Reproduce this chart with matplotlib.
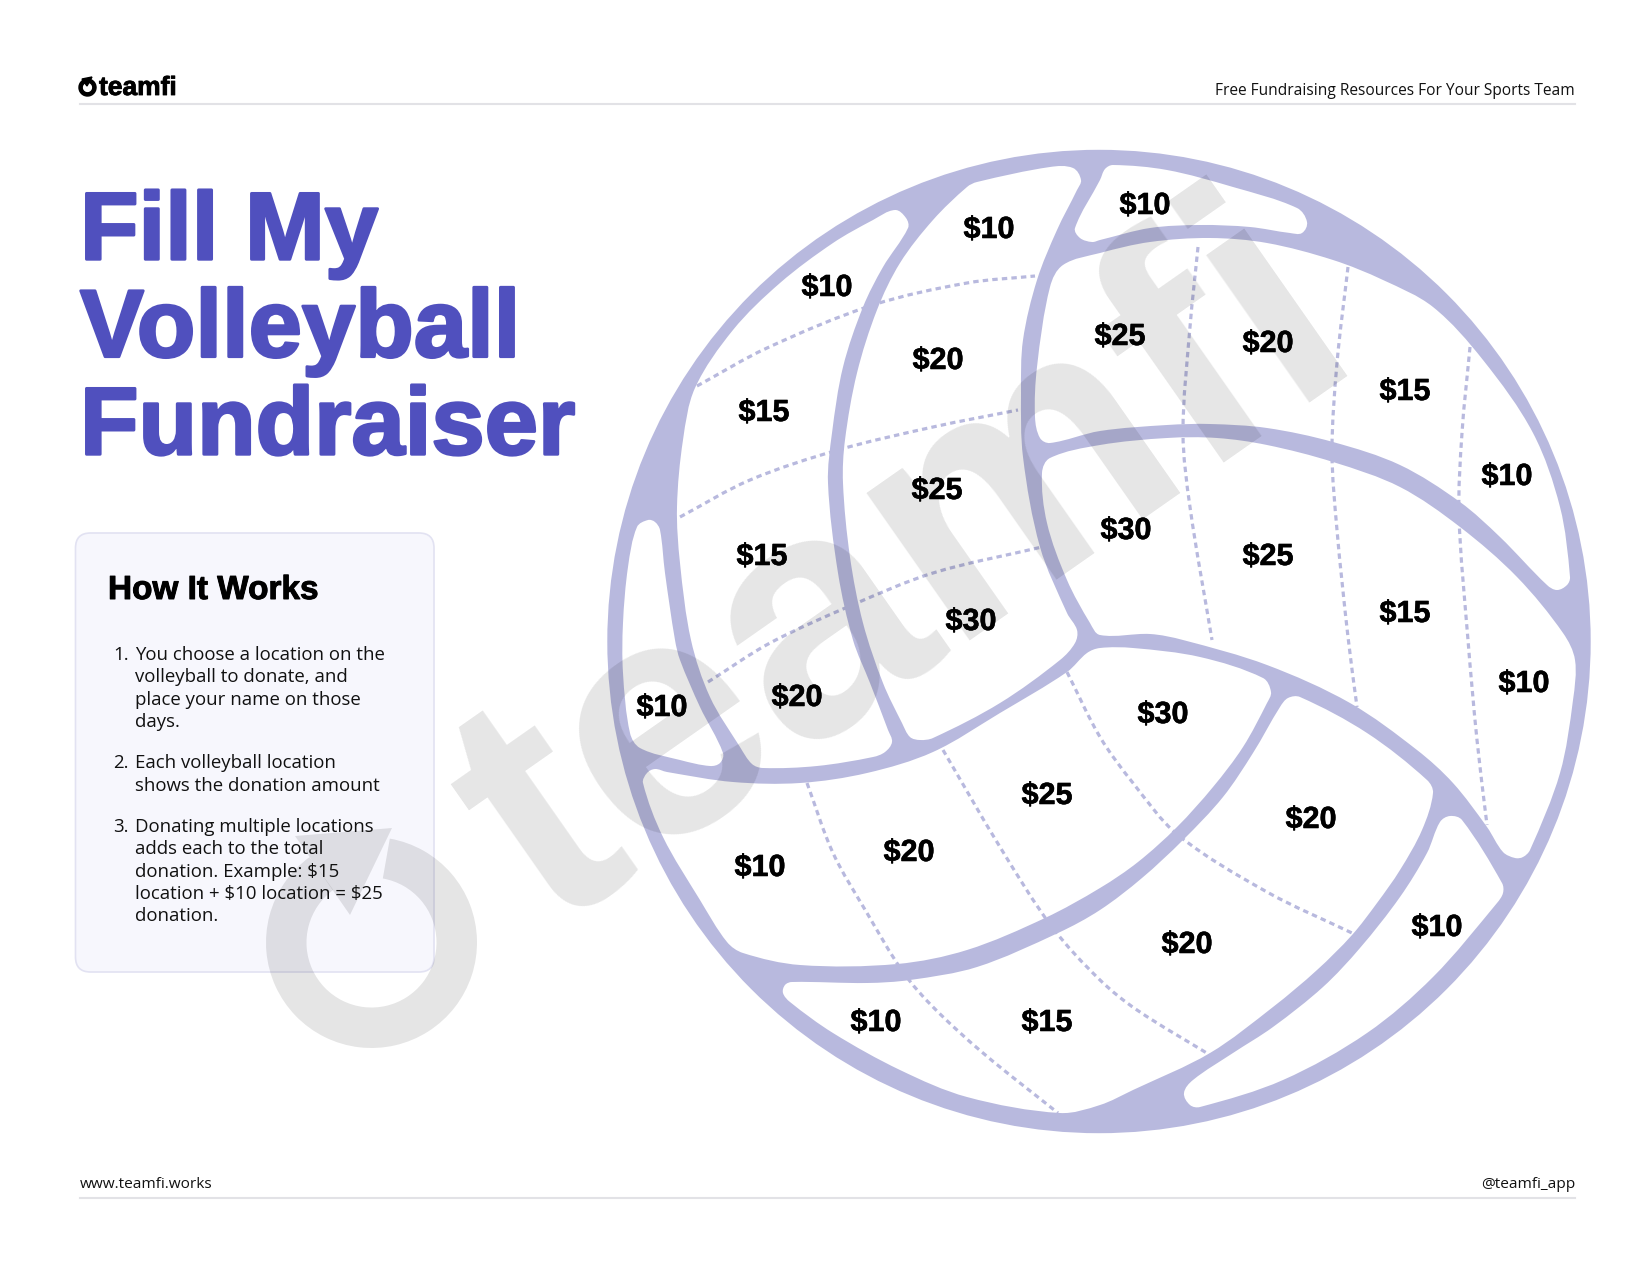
import numpy as np
import matplotlib
matplotlib.use("Agg")
import matplotlib.pyplot as plt
import matplotlib.patheffects as pe
from matplotlib.path import Path
from matplotlib.patches import PathPatch, Circle, FancyBboxPatch, Wedge, Polygon

# ---------- content ----------
title_lines = ["Fill My", "Volleyball", "Fundraiser"]
brand = "teamfi"
tagline = "Free Fundraising Resources For Your Sports Team"
site = "www.teamfi.works"
handle = "@teamfi_app"
card_heading = "How It Works"
step_numbers = ["1.", "2.", "3."]
step_lines = [
    ["You choose a location on the", "volleyball to donate, and", "place your name on those", "days."],
    ["Each volleyball location", "shows the donation amount"],
    ["Donating multiple locations", "adds each to the total", "donation. Example: $15",
     "location + $10 location = $25", "donation."],
]
step_baselines = [[660, 682.3, 705, 727.3], [768, 790.7], [831.7, 854, 876.7, 899, 921]]

amounts = [10, 10, 10, 15, 20, 25, 20, 15, 10, 15, 25, 30, 25, 15, 10,
           10, 20, 30, 30, 20, 10, 20, 25, 20, 10, 10, 15]
amount_x = [827, 989, 1145, 764, 938, 1120, 1268, 1405, 1507, 762, 937, 1126, 1268, 1405, 1524,
            662, 797, 971, 1163, 1311, 760, 909, 1047, 1187, 1437, 876, 1047]
amount_y = [288, 230, 206, 413, 361, 337, 344, 392, 477, 557, 491, 531, 557, 614, 684,
            708, 698, 622, 715, 820, 868, 853, 796, 945, 928, 1023, 1023]

# ---------- volleyball outline ----------
panel_a = [(895,210),(906,218),(908,228),(883,267),(863,307),(843,367),(832,433),(828,483),(838,573),(853,640),
           (870,683),(888,730),(892,742),(885,752),(873,757),(817,766),(763,768),(752,764),(740,747),(710,697),
           (691,640),(680,563),(677,507),(683,440),(695,388),(733,330),(780,283),(833,243),(873,220)]
panel_b = [(977,182),(1050,167),(1073,168),(1081,180),(1077,190),(1057,230),(1037,280),(1023,340),(1021,393),
           (1023,457),(1040,547),(1067,613),(1077,630),(1075,643),(1060,660),(1000,703),(933,738),(920,740),
           (910,737),(902,723),(883,683),(863,623),(850,557),(843,483),(845,440),(857,373),(877,310),(900,263),(933,220),(967,187)]
panel_c = [(1075,228),(1080,238),(1092,242),(1100,240),(1150,228),(1200,225),(1250,227),(1290,233),(1302,233),
           (1307,222),(1297,208),(1233,187),(1167,170),(1113,165),(1105,169),(1100,180)]
panel_d = [(1050,287),(1063,265),(1100,253),(1150,242),(1210,238),(1267,243),(1333,260),(1383,280),(1433,307),
           (1483,360),(1533,433),(1560,507),(1570,577),(1567,585),(1557,590),(1547,585),(1500,537),(1460,502),
           (1400,465),(1333,442),(1267,428),(1210,424),(1167,425),(1100,431),(1050,443),(1040,438),(1035,417),(1037,367)]
panel_e = [(1050,458),(1100,445),(1167,438),(1217,438),(1267,445),(1333,462),(1400,487),(1460,527),(1517,577),
           (1563,633),(1575,660),(1573,700),(1560,773),(1530,850),(1523,857),(1515,858),(1503,852),(1487,827),
           (1453,783),(1417,750),(1350,703),(1267,665),(1183,640),(1150,634),(1100,635),(1090,623),(1067,580),
           (1047,523),(1042,473)]
panel_f = [(647,773),(643,783),(663,837),(700,900),(727,942),(743,953),(800,965),(897,964),(967,950),(1045,918),
           (1100,888),(1138,862),(1177,827),(1213,787),(1243,747),(1267,703),(1271,692),(1263,678),(1200,657),
           (1133,648),(1100,648),(1087,653),(1067,672),(1000,713),(933,752),(867,773),(800,783),(733,782),(667,772),(655,769)]
panel_g = [(792,982),(867,983),(910,980),(977,967),(1058,933),(1100,910),(1142,878),(1183,840),(1223,797),(1253,753),
           (1280,707),(1288,698),(1300,697),(1367,733),(1427,780),(1433,793),(1422,830),(1400,870),(1377,903),
           (1352,935),(1317,970),(1273,1007),(1210,1053),(1133,1090),(1100,1105),(1060,1113),(967,1097),(900,1070),
           (833,1033),(790,1002),(783,993),(785,985)]
panel_h = [(1440,822),(1450,816),(1462,820),(1502,883),(1503,893),(1497,903),(1433,977),(1367,1033),(1283,1080),
           (1200,1107),(1190,1105),(1184,1093),(1193,1080),(1233,1053),(1273,1027),(1323,987),(1360,948),(1400,897),(1427,853)]
panel_i = [(648,520),(637,527),(628,567),(623,623),(623,673),(630,733),(640,748),(680,760),(710,766),(720,763),
           (723,753),(700,707),(680,660),(675,640),(665,573),(660,530),(655,522)]
panels = [panel_a, panel_b, panel_c, panel_d, panel_e, panel_f, panel_g, panel_h, panel_i]

seam_1 = [(697,386),(767,348),(873,305),(967,283),(1035,276)]
seam_2 = [(680,517),(750,480),(838,450),(933,427),(1018,410)]
seam_3 = [(708,682),(770,643),(850,606),(933,573),(1042,547)]
seam_4 = [(1198,247),(1190,327),(1183,432),(1190,507),(1212,640)]
seam_5 = [(1348,267),(1337,363),(1332,451),(1337,530),(1348,637),(1357,707)]
seam_6 = [(1470,347),(1462,433),(1459,515),(1468,640),(1477,740),(1487,825)]
seam_7 = [(807,783),(833,853),(867,913),(903,972),(933,1007),(983,1053),(1058,1113)]
seam_8 = [(943,750),(1000,847),(1052,927),(1100,980),(1137,1010),(1210,1055)]
seam_9 = [(1067,672),(1100,737),(1133,783),(1178,835),(1267,892),(1352,933)]
seams = [seam_1, seam_2, seam_3, seam_4, seam_5, seam_6, seam_7, seam_8, seam_9]

# ---------- style ----------
LAV = "#B8B9DE"
INDIGO = "#5050BE"
RULE = "#E2E2E6"
HEAD = "Liberation Sans"
BODY = "Open Sans"


def smooth_path(points, closed=True):
    p = np.asarray(points, float)
    n = len(p)
    if closed:
        prev, nxt = np.roll(p, 1, 0), np.roll(p, -1, 0)
    else:
        prev = np.vstack([p[0], p[:-1]])
        nxt = np.vstack([p[1:], p[-1]])
    tang = nxt - prev
    tang = tang / np.linalg.norm(tang, axis=1, keepdims=True)
    verts, codes = [p[0]], [Path.MOVETO]
    count = n if closed else n - 1
    for i in range(count):
        j = (i + 1) % n
        d = np.linalg.norm(p[j] - p[i]) / 3
        verts += [p[i] + tang[i] * d, p[j] - tang[j] * d, p[j]]
        codes += [Path.CURVE4] * 3
    return Path(np.array(verts), codes)


fig = plt.figure(figsize=(16.5, 12.75), dpi=100, facecolor="white")
ax = fig.add_axes([0, 0, 1, 1])
ax.set_xlim(0, 1650)
ax.set_ylim(1275, 0)
ax.axis("off")

thick = lambda w, c: [pe.withStroke(linewidth=w, foreground=c)]

# header and footer
ax.plot([80, 1575], [104, 104], color=RULE, lw=1.5, zorder=1)
ax.plot([80, 1575], [1197.5, 1197.5], color=RULE, lw=1.5, zorder=1)
ax.add_patch(Wedge((87.5, 87.5), 8.5, -70, 240, width=3.2, color="black", zorder=5))
ax.add_patch(Polygon([(82, 79), (92, 77), (87, 86)], color="black", zorder=5))
ax.text(99, 95, brand, family=HEAD, weight="bold", fontsize=19, color="black", zorder=5,
        path_effects=thick(0.6, "black"))
ax.text(1575, 95, tagline, family=BODY, fontsize=11.2, ha="right", color="#111111", zorder=5)
ax.text(80, 1188, site, family=BODY, fontsize=11.1, color="#111111", zorder=5)
ax.text(1575, 1188, handle, family=BODY, fontsize=11.1, ha="right", color="#111111", zorder=5)

# title
for line, y in zip(title_lines, [259.3, 356.7, 454.3]):
    ax.text(80, y, line, family=HEAD, weight="bold", fontsize=69, color=INDIGO, zorder=5,
            path_effects=thick(2.0, INDIGO))

# card
ax.add_patch(FancyBboxPatch((75.5, 533), 358.5, 439, boxstyle="round,pad=0,rounding_size=15",
                            fc="#F7F7FD", ec="#E2E2F2", lw=1.2, zorder=1))
ax.text(108, 599, card_heading, family=HEAD, weight="bold", fontsize=24, color="black", zorder=5,
        path_effects=thick(0.7, "black"))
for num, lines, ys in zip(step_numbers, step_lines, step_baselines):
    ax.text(129, ys[0], num, family=BODY, fontsize=13.4, ha="right", color="#111111", zorder=5,
            parse_math=False)
    for line, y in zip(lines, ys):
        ax.text(135, y, line, family=BODY, fontsize=13.4, color="#111111", zorder=5, parse_math=False)

# ball
ax.add_patch(Circle((1099, 641.5), 491.7, fc=LAV, ec="none", zorder=2))
for pts in panels:
    ax.add_patch(PathPatch(smooth_path(pts), fc="white", ec="none", zorder=3))
for pts in seams:
    ax.add_patch(PathPatch(smooth_path(pts, closed=False), fc="none", ec=LAV, lw=2.3,
                           linestyle=(0, (1.7, 1.3)), zorder=3.5))

# watermark
ax.text(550, 932, brand, family=HEAD, weight="bold", fontsize=244, color="black", alpha=0.10,
        rotation=35, rotation_mode="anchor", ha="left", va="baseline", zorder=4)
ax.add_patch(Wedge((371.5, 942.5), 105.5, -80, 234, width=40.5, fc="black", ec="none", alpha=0.10, zorder=4))
ax.add_patch(Polygon([(392, 828), (295, 836), (350, 915)], fc="black", ec="none", alpha=0.10, zorder=4))

# donation labels
for val, x, y in zip(amounts, amount_x, amount_y):
    ax.text(x, y, f"${val}", family=HEAD, weight="bold", fontsize=22, ha="center", va="center",
            color="black", zorder=6, path_effects=thick(0.4, "black"), parse_math=False)

fig.savefig("out.png", dpi=100, facecolor="white")
